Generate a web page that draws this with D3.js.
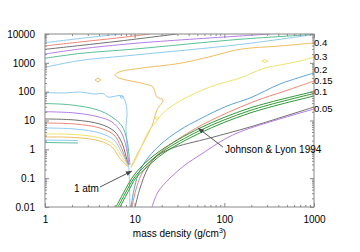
<!DOCTYPE html>
<html>
<head>
<meta charset="utf-8">
<script src="https://cdn.jsdelivr.net/npm/d3@7"></script>
<style>
body { margin: 0; background: #fff; }
text { font-family: "Liberation Sans", Arial, sans-serif; font-size: 10px; fill: #000; }
</style>
</head>
<body>
<div id="chart-area"></div>
<script>
// Axis ticks
let xMajor = [1, 10, 100, 1000];
let xTickLabels = ["1", "10", "100", "1000"];
let yMajor = [0.01, 0.1, 1, 10, 100, 1000, 10000];
let yTickLabels = ["0.01", "0.1", "1", "10", "100", "1000", "10000"];

// Contour lines, [density g/cm3, temperature]
// high temperature family (span the whole width)
let hot1 = [[1, 4990], [2.45, 6980], [6.9, 10000]];
let hot2 = [[1, 3840], [2.45, 5280], [6.86, 7450], [14.8, 10000]];
let hot3 = [[1, 2940], [2.45, 3990], [6.86, 5720], [29.6, 10000]];
let hot4 = [[1, 2020], [2.45, 3020], [10.1, 4750], [149, 8530], [322, 10000]];
let hot5 = [[1, 1440], [2.45, 2110], [10.1, 3020], [149, 6550], [1000, 9610]];
let hot6 = [[1, 700], [2.45, 1200], [10.1, 1870], [149, 4320], [1000, 9610]];

// low density family (bends down into the valley)
let cold1 = [[1, 93.5], [1.67, 90], [2.45, 97.3], [3.61, 83], [4.43, 86.4], [5.04, 65.3], [7.22, 70.8],
             [8.0, 37.3], [8.21, 15.5], [8.0, 6.44], [8.21, 1.41], [8.42, 0.427], [8.64, 0.192], [8.86, 0.01]];
let cold2 = [[1, 38.8], [2.0, 34.5], [3.9, 23.1], [5.58, 13.2], [7.22, 6.44], [8.21, 2.1], [8.64, 0.636], [8.86, 0.286]];
let cold3 = [[1, 20.2], [2.16, 18.2], [3.9, 13.5], [5.58, 8.87], [7.03, 3.99], [8.0, 1.30], [8.64, 0.286]];
let cold4 = [[1, 11.3], [2.16, 10.4], [4.1, 7.55], [5.88, 4.32], [7.22, 1.66], [8.42, 0.286]];
let cold5 = [[1, 8.18], [2.16, 7.55], [4.1, 5.49], [5.88, 3.14], [7.03, 1.21], [8.42, 0.286]];
let cold6 = [[1, 5.49], [2.16, 5.07], [4.1, 3.68], [5.88, 2.1], [7.03, 0.875], [8.42, 0.286]];
let cold7 = [[1, 3.40], [2.16, 3.26], [4.1, 2.47], [5.73, 1.53], [6.86, 0.689], [8.42, 0.264]];
let cold8 = [[1, 2.67], [2.16, 2.57], [4.1, 1.94], [5.58, 1.21], [6.68, 0.542], [8.42, 0.244]];
let cold9 = [[1, 2.1], [2.33, 2.02]];
let cold10 = [[1, 1.73], [2.33, 1.66]];

// labelled levels (rise to the right edge)
let level04 = [[9.1, 0.244], [10.6, 0.636], [13.0, 2.1], [15.6, 6.44], [17.7, 23.1], [20.7, 51.4], [17.7, 65.3],
               [16.0, 145], [13.0, 184], [10.1, 221], [6.86, 290], [6.03, 378], [6.86, 492], [11.5, 646],
               [32, 963], [69, 1630], [149, 2940], [417, 3840], [1000, 4870]];
let level03 = [[9.1, 0.225], [10.6, 0.542], [12.1, 1.41], [14.1, 3.99], [17.3, 8.87], [20.7, 18.2], [32, 47.4],
               [69, 145], [149, 298], [284, 662], [417, 841], [697, 1157], [1000, 1590]];
let level02 = [[9.1, 0.01], [9.82, 0.0388], [10.9, 0.129], [13.0, 0.363], [19.1, 1.41], [32, 4.68], [53.5, 11.3],
               [107, 31.8], [193, 60.2], [417, 184], [1000, 444]];
let level015 = [[9.33, 0.01], [10.3, 0.0388], [11.8, 0.129], [14.8, 0.363], [22.9, 1.2], [53.5, 6.44],
                [208, 43.8], [474, 105], [1000, 234]];
let level01a = [[6.19, 0.01], [7.6, 0.0331], [9.33, 0.101], [12.1, 0.264], [19.1, 0.875], [53.5, 5.49], [193, 27.1], [1000, 101]];
let level01b = [[6.51, 0.01], [8.0, 0.0331], [9.82, 0.101], [12.7, 0.244], [20.1, 0.807], [53.5, 4.50], [193, 22.2], [1000, 86.4]];
let level01c = [[6.86, 0.01], [8.42, 0.0331], [10.3, 0.101], [13.4, 0.225], [21.2, 0.746], [53.5, 3.68], [193, 18.2], [1000, 70.8]];
let grayRise = [[10.1, 0.01], [11.5, 0.0455], [13.7, 0.192], [16.8, 0.5], [24.8, 1.03], [69, 2.47], [193, 5.94], [1000, 29.4]];
let level005 = [[15.6, 0.01], [18.2, 0.0331], [24.8, 0.101], [36.4, 0.286], [53.5, 0.636], [101.6, 2.28],
                [149, 3.99], [249, 6.98], [1000, 25.1]];

// small closed contours
let islandOrange = [[3.61, 254], [3.9, 298], [4.21, 254], [3.9, 216]];
let islandYellow1 = [[262, 1157], [284, 1306], [306, 1157], [284, 1026]];
let islandYellow2 = [[16.8, 12.2], [17.7, 13.7], [18.7, 12.2], [17.7, 10.8]];
let islandBlue = [[6.86, 65.3], [7.22, 73.6], [7.6, 65.3], [7.22, 57.9]];

let levelLabels = ["0.4", "0.3", "0.2", "0.15", "0.1", "0.05"];

// annotations: [tail, head]
let atmArrow = [[4.1, 0.0493], [9.33, 0.177]];
let jlArrow = [[96.5, 1.2], [50.8, 5.49]];

let col = {
    purple: "#b57ee6", green: "#5cbf97", lightblue: "#8fcbef", orange: "#efbe62",
    yellow: "#efe26e", blue: "#5aa2d8", salmon: "#ef8577", gray: "#707070", dkgreen: "#2e9a34"
};

let contours = [
    {pts: hot1, color: col.lightblue}, {pts: hot2, color: col.salmon}, {pts: hot3, color: col.gray},
    {pts: hot4, color: col.purple}, {pts: hot5, color: col.green}, {pts: hot6, color: col.lightblue},
    {pts: cold1, color: col.lightblue}, {pts: cold2, color: col.green}, {pts: cold3, color: col.purple},
    {pts: cold4, color: col.gray}, {pts: cold5, color: col.salmon}, {pts: cold6, color: col.lightblue},
    {pts: cold7, color: col.yellow}, {pts: cold8, color: col.orange}, {pts: cold9, color: col.lightblue},
    {pts: cold10, color: col.green},
    {pts: level04, color: col.orange}, {pts: level03, color: col.yellow}, {pts: level02, color: col.blue},
    {pts: level015, color: col.salmon}, {pts: grayRise, color: col.gray},
    {pts: level01c, color: col.dkgreen}, {pts: level01b, color: col.dkgreen}, {pts: level01a, color: col.dkgreen},
    {pts: level005, color: col.purple}
];
let islands = [
    {pts: islandOrange, color: col.orange}, {pts: islandYellow1, color: col.yellow},
    {pts: islandYellow2, color: col.yellow}, {pts: islandBlue, color: col.lightblue}
];
let labelled = [level04, level03, level02, level015, level01a, level005];
// small vertical nudge so the crowded labels do not sit on each other
let labelNudge = [0, 0, -3.5, -0.5, 0.5, 0];

// Chart area
let margin = {top: 34, right: 46, bottom: 45, left: 45},
    width = 269,
    height = 173;

let root = d3.select("#chart-area").append("svg")
    .attr("width", width + margin.left + margin.right)
    .attr("height", height + margin.top + margin.bottom);

root.append("defs").append("marker")
    .attr("id", "head")
    .attr("viewBox", "0 0 10 10")
    .attr("refX", 10).attr("refY", 5)
    .attr("markerWidth", 6).attr("markerHeight", 6)
    .attr("orient", "auto")
    .append("path").attr("d", "M0,1L10,5L0,9z").attr("fill", "#444");

root.select("defs").append("clipPath").attr("id", "clip")
    .append("rect").attr("width", width).attr("height", height);

let svg = root.append("g")
    .attr("transform", "translate(" + margin.left + "," + margin.top + ")");

// Scales
let x = d3.scaleLog().domain([1, 1000]).range([0, width]);
let y = d3.scaleLog().domain([0.01, 10000]).range([height, 0]);

let minorOf = ticks => {
    let out = [];
    ticks.slice(0, -1).forEach(t => { for (let k = 2; k < 10; k++) out.push(t * k); });
    return out;
};
let xMinor = minorOf(xMajor), yMinor = minorOf(yMajor);

// Contours
let lineGen = d3.line()
    .x(d => x(d[0]))
    .y(d => y(d[1]))
    .curve(d3.curveCatmullRom.alpha(0.5));

let loopGen = d3.line()
    .x(d => x(d[0]))
    .y(d => y(d[1]))
    .curve(d3.curveLinearClosed);

let plot = svg.append("g").attr("clip-path", "url(#clip)");

plot.selectAll(".contour")
    .data(contours)
    .enter().append("path")
    .attr("class", "contour")
    .attr("d", d => lineGen(d.pts))
    .attr("fill", "none")
    .attr("stroke", d => d.color)
    .attr("stroke-width", 1);

plot.selectAll(".island")
    .data(islands)
    .enter().append("path")
    .attr("class", "island")
    .attr("d", d => loopGen(d.pts))
    .attr("fill", "none")
    .attr("stroke", d => d.color)
    .attr("stroke-width", 1);

// Axes (ticks inward, mirrored)
function styleAxis(g) {
    g.select(".domain").remove();
    g.selectAll(".tick line").attr("stroke", "#888");
    g.selectAll("text").attr("fill", "#000").style("font-size", "10px")
        .style("font-family", "'Liberation Sans', Arial, sans-serif");
}

svg.append("g").attr("transform", "translate(0," + height + ")")
    .call(d3.axisBottom(x).tickValues(xMajor).tickSize(-4).tickPadding(9)
        .tickFormat((d, i) => xTickLabels[i]))
    .call(styleAxis);
svg.append("g").attr("transform", "translate(0," + height + ")")
    .call(d3.axisBottom(x).tickValues(xMinor).tickSize(-2).tickFormat(""))
    .call(styleAxis);
svg.append("g")
    .call(d3.axisTop(x).tickValues(xMajor).tickSize(-4).tickFormat(""))
    .call(styleAxis);
svg.append("g")
    .call(d3.axisTop(x).tickValues(xMinor).tickSize(-2).tickFormat(""))
    .call(styleAxis);

svg.append("g")
    .call(d3.axisLeft(y).tickValues(yMajor).tickSize(-4).tickPadding(10)
        .tickFormat((d, i) => yTickLabels[i]))
    .call(styleAxis);
svg.append("g")
    .call(d3.axisLeft(y).tickValues(yMinor).tickSize(-2).tickFormat(""))
    .call(styleAxis);
svg.append("g").attr("transform", "translate(" + width + ",0)")
    .call(d3.axisRight(y).tickValues(yMajor).tickSize(-4).tickFormat(""))
    .call(styleAxis);
svg.append("g").attr("transform", "translate(" + width + ",0)")
    .call(d3.axisRight(y).tickValues(yMinor).tickSize(-2).tickFormat(""))
    .call(styleAxis);

svg.append("rect")
    .attr("width", width).attr("height", height)
    .attr("fill", "none").attr("stroke", "#888").attr("stroke-width", 1);

// Level labels at the right edge
svg.selectAll(".level-label")
    .data(labelled)
    .enter().append("text")
    .attr("class", "level-label")
    .attr("x", width)
    .attr("y", (d, i) => y(d[d.length - 1][1]) + labelNudge[i])
    .attr("dy", "0.35em")
    .style("font-size", "9.5px")
    .text((d, i) => levelLabels[i]);

// Annotations
[atmArrow, jlArrow].forEach(a => {
    svg.append("line")
        .attr("x1", x(a[0][0])).attr("y1", y(a[0][1]))
        .attr("x2", x(a[1][0])).attr("y2", y(a[1][1]))
        .attr("stroke", "#555").attr("stroke-width", 1)
        .attr("marker-end", "url(#head)");
});

svg.append("text")
    .attr("x", x(atmArrow[0][0]) - 1)
    .attr("y", y(atmArrow[0][1]) + 4.5)
    .style("text-anchor", "end")
    .text("1 atm");

svg.append("text")
    .attr("x", x(jlArrow[0][0]) + 2)
    .attr("y", y(jlArrow[0][1]) + 6)
    .text("Johnson & Lyon 1994");

// Axis title
svg.append("text")
    .attr("x", width / 2)
    .attr("y", height + 30)
    .style("text-anchor", "middle")
    .text("mass density (g/cm")
    .append("tspan").attr("dy", "-4").style("font-size", "7px").text("3")
    .select(function() { return this.parentNode; })
    .append("tspan").attr("dy", "4").text(")");
</script>
</body>
</html>
